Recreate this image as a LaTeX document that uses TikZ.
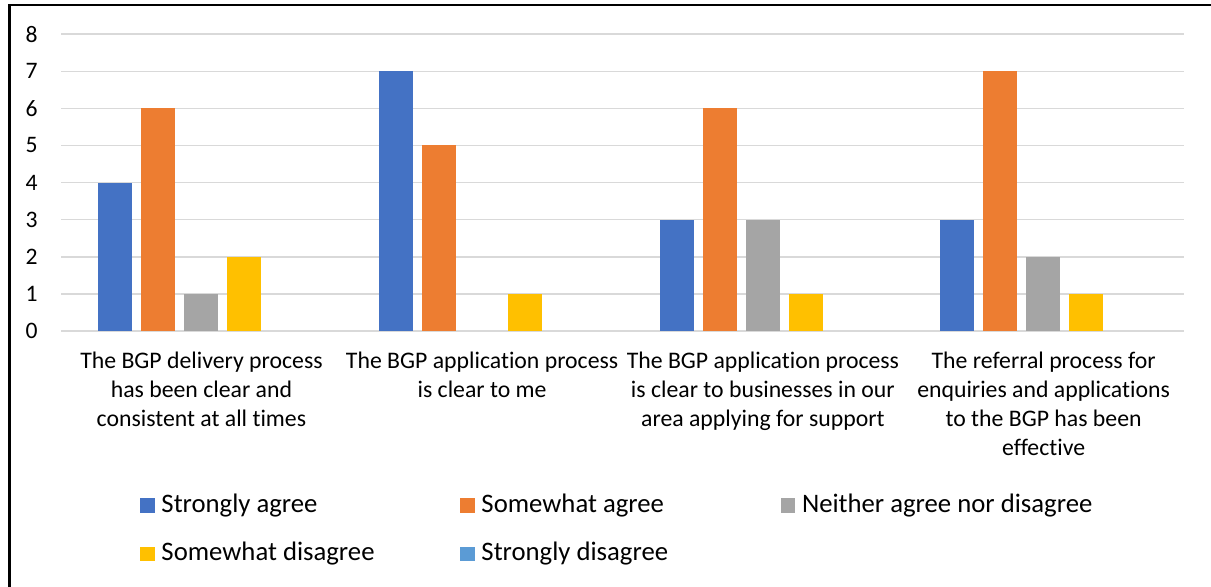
\documentclass[tikz,border=0pt]{standalone}
\usepackage{fontspec}
\setmainfont{Carlito}[Ligatures=NoCommon]
\usetikzlibrary{positioning}
\definecolor{sagree}{HTML}{4472C4}
\definecolor{wagree}{HTML}{ED7D31}
\definecolor{neither}{HTML}{A5A5A5}
\definecolor{wdisagree}{HTML}{FFC000}
\definecolor{sdisagree}{HTML}{5B9BD5}
\definecolor{gridgray}{HTML}{D9D9D9}
\def\colbar[#1](#2:#3){\fill[#1] (#2,255) rectangle ++(34,{37.1*#3});}

\begin{document}
\begin{tikzpicture}[x=0.025cm,y=0.025cm,
	tick/.style={anchor=east,inner sep=0pt,font=\fontsize{16.8}{20}\selectfont},
	catlabel/.style={anchor=north,align=center,inner sep=0pt,font=\fontsize{16.9}{20.6}\selectfont},
	swatch/.style={inner sep=0pt,minimum size=10.5pt},
	keytext/.style={anchor=west,inner sep=0pt,right=4.3pt of #1,font=\fontsize{19}{23}\selectfont}]
				\useasboundingbox (0,0) rectangle (1211,586);
				\draw[line width=1.8pt] (9.5,-5) -- (9.5,581) -- (1216,581);
				
				% grid
				\draw[gridgray,line width=1.1pt] (61,255) -- (1184,255);
				\draw[gridgray,line width=1.1pt] (61,292.1) -- (1184,292.1);
				\draw[gridgray,line width=1.1pt] (61,329.2) -- (1184,329.2);
				\draw[gridgray,line width=1.1pt] (61,366.3) -- (1184,366.3);
				\draw[gridgray,line width=1.1pt] (61,403.4) -- (1184,403.4);
				\draw[gridgray,line width=1.1pt] (61,440.5) -- (1184,440.5);
				\draw[gridgray,line width=1.1pt] (61,477.6) -- (1184,477.6);
				\draw[gridgray,line width=1.1pt] (61,514.7) -- (1184,514.7);
				\draw[gridgray,line width=1.1pt] (61,551.8) -- (1184,551.8);
				
				\node[tick] (t0) at (38,255) {0};
				\node[tick] (t1) at (38,292.1) {1};
				\node[tick] (t2) at (38,329.2) {2};
				\node[tick] (t3) at (38,366.3) {3};
				\node[tick] (t4) at (38,403.4) {4};
				\node[tick] (t5) at (38,440.5) {5};
				\node[tick] (t6) at (38,477.6) {6};
				\node[tick] (t7) at (38,514.7) {7};
				\node[tick] (t8) at (38,551.8) {8};
				
				% delivery
				\colbar[sagree](98:4)
				\colbar[wagree](141:6)
				\colbar[neither](184:1)
				\colbar[wdisagree](227:2)
				
				% application
				\colbar[sagree](379:7)
				\colbar[wagree](422:5)
				\colbar[wdisagree](508:1)
				
				% businesses
				\colbar[sagree](660:3)
				\colbar[wagree](703:6)
				\colbar[neither](746:3)
				\colbar[wdisagree](789:1)
				
				% referral
				\colbar[sagree](940:3)
				\colbar[wagree](983:7)
				\colbar[neither](1026:2)
				\colbar[wdisagree](1069:1)
				
				\node[catlabel] (delivery) at (201.4,234) {The BGP delivery process\\has been clear and\\consistent at all times};
				\node[catlabel] (application) at (482.1,234) {The BGP application process\\is clear to me};
				\node[catlabel] (businesses) at (762.9,234) {The BGP application process\\is clear to businesses in our\\area applying for support};
				\node[catlabel] (referral) at (1043.6,234) {The referral process for\\enquiries and applications\\to the BGP has been\\effective};
				
				% legend
				\node[swatch,fill=sagree] (k1) at (147.5,80.5) {};
				\node[keytext=k1] (l1) {Strongly agree};
				\node[swatch,fill=wagree] (k2) at (467.5,80.5) {};
				\node[keytext=k2] (l2) {Somewhat agree};
				\node[swatch,fill=neither] (k3) at (788,80.5) {};
				\node[keytext=k3] (l3) {Neither agree nor disagree};
				\node[swatch,fill=wdisagree] (k4) at (147.5,32) {};
				\node[keytext=k4] (l4) {Somewhat disagree};
				\node[swatch,fill=sdisagree] (k5) at (467.5,32) {};
				\node[keytext=k5] (l5) {Strongly disagree};
\end{tikzpicture}
\end{document}
